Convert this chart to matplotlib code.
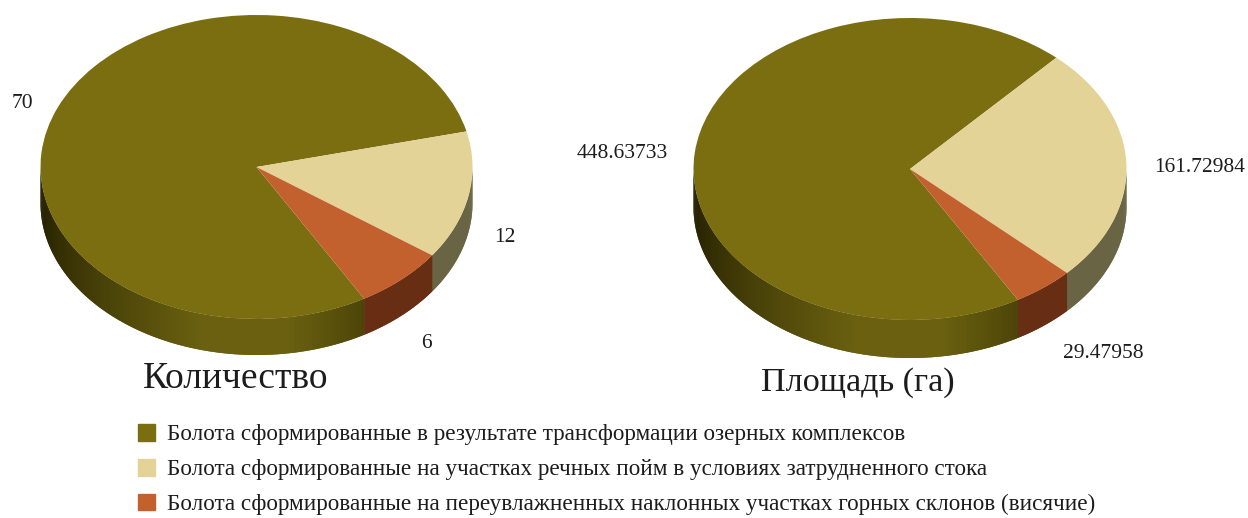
import numpy as np
import matplotlib
matplotlib.use("Agg")
import matplotlib.pyplot as plt
from matplotlib.colors import to_rgb
from matplotlib.patches import Patch

W = 1248
H = 518

count_vals = [70, 12, 6]
area_vals = [448.63733, 161.72984, 29.47958]
count_labels = ["70", "12", "6"]
area_labels = ["448.63733", "161.72984", "29.47958"]
legend_labels = [
    "Болота сформированные в результате трансформации озерных комплексов",
    "Болота сформированные на участках речных пойм в условиях затрудненного стока",
    "Болота сформированные на переувлажненных наклонных участках горных склонов (висячие)",
]
top_colors = ["#7a6e10", "#e4d396", "#c2602e"]
# colours of the side wall: [dark end, bright middle]
side_colors = [("#221e00", "#6a6010"), ("#5c5838", "#76724f"), ("#5f2a12", "#6f3216")]

plt.rcParams["font.family"] = ["Liberation Serif", "DejaVu Serif"]


def mix(c1, c2, t):
    a = np.array(to_rgb(c1))
    b = np.array(to_rgb(c2))
    return tuple(a + (b - a) * t)


def side_color(idx, ang):
    # the olive side is dark on the far left, brightest near the front, a bit darker at the end
    dark, bright = side_colors[idx]
    if idx == 0:
        if ang < 255:
            t = (ang - 180) / 75
            return mix(dark, bright, np.clip(t, 0, 1) ** 1.2)
        if ang < 278:
            return mix(bright, bright, 0)
        t = (ang - 278) / 22
        return mix(bright, "#4c4408", np.clip(t, 0, 1))
    return mix(dark, bright, 0.5)


def draw_pie(vals, cx, cy, rx, ry, depth):
    # axes box in pixels, unit circle squeezed into rx, ry
    pad = 0.02
    x0 = cx - rx * (1 + pad)
    x1 = cx + rx * (1 + pad)
    y_top = cy - ry * (1 + pad)
    d = depth / ry
    y_bot = cy + ry * (1 + pad) + depth
    ax = fig.add_axes([x0 / W, 1 - y_bot / H, (x1 - x0) / W, (y_bot - y_top) / H])
    wedges, _ = ax.pie(vals, colors=top_colors, startangle=-60.1, counterclock=False,
                       radius=1, wedgeprops={"linewidth": 0, "zorder": 5})
    ax.set_aspect("auto")
    ax.set_xlim(-1 - pad, 1 + pad)
    ax.set_ylim(-1 - pad - d, 1 + pad)

    # side wall, strips overlap the next degree so no seams show
    for i, w in enumerate(wedges):
        t1 = w.theta1 % 360
        t2 = t1 + (w.theta2 - w.theta1)
        for a in np.arange(180, 360, 1.0):
            for shift in (0, -360):
                lo = max(a, t1 + shift)
                hi = min(a + 2, t2 + shift, 360)
                if hi <= lo or a >= t2 + shift:
                    continue
                tt = np.radians(np.linspace(lo, hi, 4))
                xs = np.cos(tt)
                ys = np.sin(tt)
                ax.fill(np.r_[xs, xs[::-1]], np.r_[ys, ys[::-1] - d],
                        color=side_color(i, a), lw=0, zorder=2)
    return ax


fig = plt.figure(figsize=(W / 100, H / 100), dpi=100)

draw_pie(count_vals, 256.5, 167, 216, 152, 36)
draw_pie(area_vals, 910, 169, 216.5, 151, 38)


def px_text(x, y, s, size):
    fig.text(x / W, 1 - y / H, s, fontsize=size, ha="center", va="center", color="#1c1c1c")


for s, (x, y) in zip(count_labels, [(22, 104), (505, 238), (426, 344)]):
    px_text(x, y, s, 15.5)
for s, (x, y) in zip(area_labels, [(622, 153), (1200, 168), (1103, 354)]):
    px_text(x, y, s, 15.5)

px_text(236, 379, "Количество", 27)
px_text(858, 383, "Площадь (га)", 24.6)

handles = [Patch(color=c) for c in top_colors]
fig.legend(handles, legend_labels, loc="upper left", bbox_to_anchor=(138 / W, 1 - 424 / H),
           frameon=False, fontsize=16.7, handlelength=0.73, handleheight=0.73,
           handletextpad=0.52, labelspacing=0.58, borderpad=0, borderaxespad=0,
           labelcolor="#1c1c1c")

fig.savefig("out.png", dpi=100)
